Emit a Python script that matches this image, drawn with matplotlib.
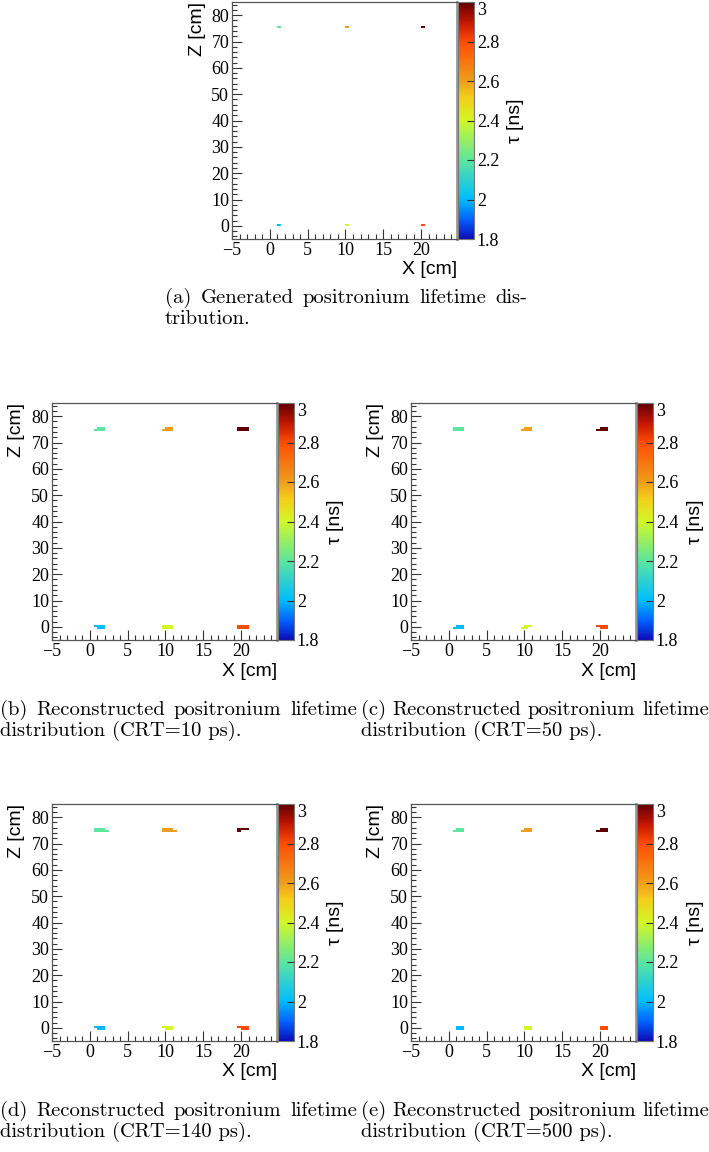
import numpy as np
import matplotlib
matplotlib.use("Agg")
import matplotlib.pyplot as plt
from matplotlib.colors import LinearSegmentedColormap
from matplotlib.ticker import MultipleLocator, FixedLocator, FixedFormatter

W, H = 709, 1152

# point sources: x [cm], z [cm], lifetime [ns]
src_x = [1, 10, 20, 1, 10, 20]
src_z = [0, 0, 0, 75, 75, 75]
src_tau = [2.0, 2.4, 2.8, 2.2, 2.6, 3.0]

# filled bins of each reconstructed spot: (upper row x from, to, lower row x from, to)
crt10_rows = [(0.5, 2.0, 1.0, 2.0), (9.5, 11.0, 9.5, 11.0), (19.5, 21.0, 19.5, 21.0),
              (1.0, 2.0, 0.5, 2.0), (10.0, 11.0, 9.5, 11.0), (19.5, 21.0, 19.5, 21.0)]
crt50_rows = [(1.0, 2.0, 0.5, 2.0), (10.0, 11.0, 9.5, 10.5), (19.5, 21.0, 20.0, 21.0),
              (0.5, 2.0, 0.5, 2.0), (10.0, 11.0, 9.5, 11.0), (20.0, 21.0, 19.5, 21.0)]
crt140_rows = [(0.5, 2.0, 1.0, 2.0), (9.5, 11.0, 10.0, 11.0), (19.5, 21.0, 20.0, 21.0),
               (0.5, 2.0, 0.5, 2.5), (9.5, 11.0, 9.5, 11.5), (19.5, 21.0, 19.5, 20.0)]
crt500_rows = [(1.0, 2.0, 1.0, 2.0), (10.0, 11.0, 10.0, 11.0), (20.0, 21.0, 20.0, 21.0),
               (1.0, 2.0, 0.5, 2.0), (10.0, 11.0, 9.5, 11.0), (20.0, 21.0, 19.5, 21.0)]
gen_rows = [(x, x + 0.5, None, None) for x in src_x]

cbar_ticks = [1.8, 2.0, 2.2, 2.4, 2.6, 2.8, 3.0]
cbar_labels = ["1.8", "2", "2.2", "2.4", "2.6", "2.8", "3"]

captions = [
    ["(a) Generated positronium lifetime dis-", "tribution."],
    ["(b) Reconstructed positronium lifetime", "distribution (CRT=10 ps)."],
    ["(c) Reconstructed positronium lifetime", "distribution (CRT=50 ps)."],
    ["(d) Reconstructed positronium lifetime", "distribution (CRT=140 ps)."],
    ["(e) Reconstructed positronium lifetime", "distribution (CRT=500 ps)."],
]

DZ = 0.75
x_edges = np.arange(-5, 25.001, 0.5)
z_edges = np.arange(-4.5, 85.001, DZ)

cmap = LinearSegmentedColormap.from_list("rainbow_root", [
    (0.0, (0.05, 0.05, 0.72)),
    (0.08, (0.0, 0.38, 1.0)),
    (0.167, (0.0, 0.74, 1.0)),
    (0.333, (0.36, 0.9, 0.62)),
    (0.5, (0.82, 0.97, 0.15)),
    (0.6, (0.96, 0.8, 0.1)),
    (0.667, (0.94, 0.62, 0.1)),
    (0.833, (1.0, 0.3, 0.02)),
    (0.92, (0.75, 0.08, 0.0)),
    (1.0, (0.38, 0.0, 0.0)),
])


def fill_hist(rows):
    h = np.full((len(z_edges) - 1, len(x_edges) - 1), np.nan)
    xc = 0.5 * (x_edges[1:] + x_edges[:-1])
    zc = 0.5 * (z_edges[1:] + z_edges[:-1])
    for z0, tau, (ua, ub, la, lb) in zip(src_z, src_tau, rows):
        for a, b, zlo, zhi in [(ua, ub, z0, z0 + DZ), (la, lb, z0 - DZ, z0)]:
            if a is None:
                continue
            xm = (xc > a) & (xc < b)
            zm = (zc > zlo) & (zc < zhi)
            h[np.ix_(zm, xm)] = tau
    return np.ma.masked_invalid(h)


def px_box(l, t, r, b):
    return [l / W, 1 - b / H, (r - l) / W, (b - t) / H]


def draw_panel(fig, rows, left, top):
    right, bottom = left + 225, top + 237
    ax = fig.add_axes(px_box(left, top, right, bottom))
    cax = fig.add_axes(px_box(right + 1, top, right + 17, bottom))

    mesh = ax.pcolormesh(x_edges, z_edges, fill_hist(rows), cmap=cmap,
                         vmin=1.8, vmax=3.0, shading="flat", antialiased=False)
    ax.set_xlim(-5, 24.75)
    ax.set_ylim(-5, 85)
    ax.xaxis.set_major_locator(FixedLocator([-5, 0, 5, 10, 15, 20]))
    ax.xaxis.set_major_formatter(FixedFormatter(["\u22125", "0", "5", "10", "15", "20"]))
    ax.xaxis.set_minor_locator(MultipleLocator(1))
    ax.yaxis.set_minor_locator(MultipleLocator(2))
    ax.set_yticks(range(0, 81, 10))
    ax.tick_params(which="both", direction="in", top=False, right=False,
                   color="#333333", width=0.8, labelsize=13, pad=2)
    ax.tick_params(which="major", length=7)
    ax.tick_params(which="minor", length=3.5)
    for lab in ax.get_xticklabels() + ax.get_yticklabels():
        lab.set_family("Liberation Serif")
    for s in ax.spines.values():
        s.set_color("#555555")
        s.set_linewidth(0.9)
    ax.spines["right"].set_color("#999999")
    ax.spines["right"].set_linewidth(2)

    ax.set_xlabel("X [cm]", loc="right", family="Liberation Sans", fontsize=14)
    ax.xaxis.set_label_coords(1.0, -31 / 237)
    ax.xaxis.label.set_va("center")
    ax.set_ylabel("Z [cm]", loc="top", family="Liberation Sans", fontsize=14)
    ax.yaxis.set_label_coords(-35 / 225, 1.0)
    ax.yaxis.label.set_va("center")

    cb = fig.colorbar(mesh, cax=cax)
    cb.outline.set_edgecolor("#777777")
    cb.outline.set_linewidth(0.8)
    cb.set_ticks(cbar_ticks)
    cb.set_ticklabels(cbar_labels)
    cax.tick_params(direction="in", length=5, width=0.8, color="#333333",
                    labelsize=13, pad=2)
    labs = cax.get_yticklabels()
    for lab in labs:
        lab.set_family("Liberation Serif")
    labs[-1].set_va("top")
    cax.set_ylabel("\u03c4 [ns]", family="Liberation Sans", fontsize=14, rotation=90)
    cax.yaxis.set_label_coords(1 + 42 / 16, 0.5)
    cax.yaxis.label.set_va("center")
    return ax


def caption(fig, lines, x0, x1, y_first, size=14.8, lh=21):
    r = fig.canvas.get_renderer()
    for i, text in enumerate(lines):
        y = 1 - (y_first + 5 + i * lh) / H
        if i == len(lines) - 1:
            fig.text(x0 / W, y, text, family="cmr10", fontsize=size, va="baseline")
            continue
        words = text.split(" ")
        ts = [fig.text(0, y, w, family="cmr10", fontsize=size, va="baseline") for w in words]
        widths = [t.get_window_extent(r).width for t in ts]
        gap = (x1 - x0 - sum(widths)) / (len(words) - 1)
        x = x0
        for t, w in zip(ts, widths):
            t.set_x(x / W)
            x += w + gap


fig = plt.figure(figsize=(W / 100, H / 100), dpi=100)

draw_panel(fig, gen_rows, 232, 2)
draw_panel(fig, crt10_rows, 52, 403)
draw_panel(fig, crt50_rows, 411, 403)
draw_panel(fig, crt140_rows, 52, 804)
draw_panel(fig, crt500_rows, 411, 804)

caption(fig, captions[0], 165, 527, 298)
caption(fig, captions[1], 0, 357, 710)
caption(fig, captions[2], 361, 709, 710)
caption(fig, captions[3], 0, 357, 1111)
caption(fig, captions[4], 361, 709, 1111)

fig.savefig("out.png", dpi=100)
